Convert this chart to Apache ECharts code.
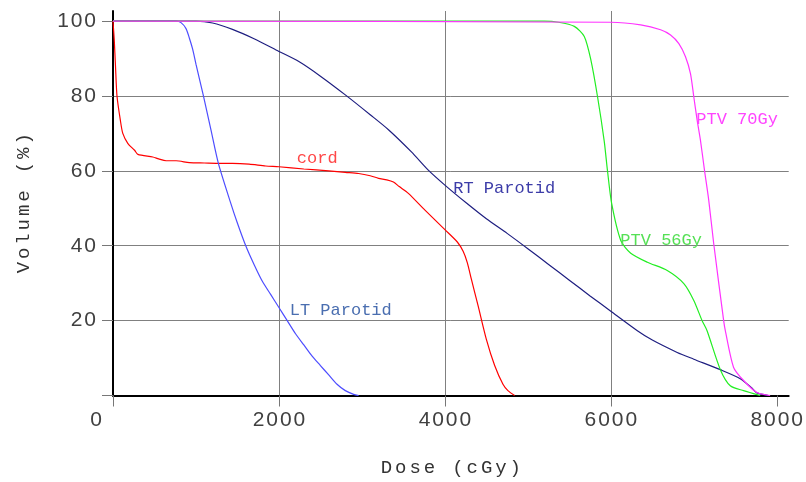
<!DOCTYPE html>
<html><head><meta charset="utf-8">
<script src="https://cdn.jsdelivr.net/npm/echarts@6/dist/echarts.min.js"></script>
<style>html,body{margin:0;padding:0;background:#fff}#c{width:806px;height:482px}</style>
</head><body><div id="c"></div>
<script>
// Dose (cGy) / Volume (%) pairs per structure
const cordDose = [0, 15, 30, 48, 88, 118, 180, 260, 300, 480, 550, 640, 760, 920, 1100, 1300, 1440, 1640, 1840, 2000, 2300, 2600, 2800, 2960, 3100, 3200, 3300, 3380, 3450, 3560, 3760, 4000, 4150, 4220, 4270, 4320, 4400, 4500, 4600, 4700, 4760, 4840];
const cordVol  = [100, 95, 88, 80, 73.6, 70, 67.3, 65.5, 64.4, 63.7, 63.2, 62.7, 62.7, 62.2, 62.1, 62, 62, 61.8, 61.3, 61.1, 60.5, 60, 59.6, 59.3, 58.7, 58, 57.6, 57, 55.8, 54, 49.5, 44.3, 41, 38.5, 35.5, 31, 24, 15, 8, 3, 1.3, 0];

const ltDose = [0, 760, 820, 880, 920, 960, 1000, 1090, 1180, 1270, 1410, 1500, 1600, 1700, 1800, 1900, 2000, 2100, 2200, 2300, 2400, 2500, 2600, 2700, 2800, 2900, 2960];
const ltVol  = [100, 100, 99.6, 98, 95.5, 92.5, 88.5, 80, 71, 62, 52, 46, 40, 35, 30.5, 27, 23.5, 20, 16.5, 13.5, 10.5, 8, 5.5, 3, 1.3, 0.3, 0];

const rtDose = [0, 1000, 1200, 1440, 1700, 2000, 2240, 2500, 2800, 3100, 3320, 3600, 3800, 4000, 4260, 4500, 4750, 5000, 5250, 5500, 5750, 6000, 6320, 6500, 6800, 7000, 7320, 7560, 7700, 7760, 7900];
const rtVol  = [100, 100, 99.5, 97.8, 95.3, 91.9, 89.2, 85.3, 80.3, 75, 71, 65, 60.2, 56.2, 51.4, 47.2, 43.3, 39.2, 35, 30.8, 26.6, 22.5, 17.3, 14.8, 11.5, 9.7, 6.9, 4.5, 2, 0.7, 0];

const ptv56Dose = [0, 5200, 5370, 5560, 5680, 5760, 5840, 5920, 5960, 6010, 6120, 6240, 6440, 6680, 6880, 7000, 7100, 7160, 7320, 7440, 7600, 7800];
const ptv56Vol  = [100, 100, 99.7, 98.6, 95.9, 89.6, 79.8, 68, 60, 51.3, 41.4, 38, 35.6, 33.4, 29.9, 25.4, 20, 17.3, 6.9, 2.6, 1.3, 0];

const ptv70Dose = [0, 6000, 6360, 6600, 6720, 6820, 6900, 6960, 7000, 7040, 7080, 7130, 7180, 7240, 7360, 7380, 7480, 7600, 7760, 7920];
const ptv70Vol  = [100, 99.7, 99, 97.7, 96.3, 94, 90.5, 86, 79.8, 73.6, 68.2, 60, 52.2, 40.6, 20, 17.3, 7.5, 4, 0.8, 0];

const names = ['cord', 'LT Parotid', 'RT Parotid', 'PTV 56Gy', 'PTV 70Gy'];
const labelAt = [[2216, 63.4], [2130, 22.7], [4100, 55.4], [6115, 41.4], [7030, 73.6]];
const xTicks = [0, 2000, 4000, 6000, 8000];
const yTicks = [20, 40, 60, 80, 100];
const xTitle = 'Dose (cGy)';
const yTitle = 'Volume (%)';

const lineColors = ['#ff0000', '#4d4dff', '#1e1e80', '#22ee22', '#ff33ff'];
const textColors = ['#ff4848', '#4a6eb0', '#3c3ca8', '#55e055', '#ff44ff'];
const sets = [[cordDose, cordVol], [ltDose, ltVol], [rtDose, rtVol], [ptv56Dose, ptv56Vol], [ptv70Dose, ptv70Vol]];

const mono = '"Liberation Mono", "Courier New", monospace';
const tickFont = '"Liberation Sans", Arial, sans-serif';

// spread characters at a fixed advance (wide-spaced text as in the original)
const spaced = (str, key) => String(str).split('').map(c => '{' + key + '|' + c + '}').join('');

const series = sets.map((s, i) => ({
  name: names[i],
  type: 'line',
  showSymbol: false,
  smooth: 0.25,
  data: s[0].map((d, k) => [d, s[1][k]]),
  lineStyle: { color: lineColors[i], width: 1.2 },
  itemStyle: { color: lineColors[i] },
  z: 3,
  markPoint: {
    symbol: 'circle', symbolSize: 0, silent: true,
    data: [{ coord: labelAt[i] }],
    label: {
      show: true, formatter: names[i], position: 'right', distance: 0,
      color: textColors[i], fontFamily: mono, fontSize: 17
    }
  }
}));

const tickRich = {
  d: { fontFamily: tickFont, fontSize: 21, color: '#404040', width: 13.6, align: 'center' },
  z: { fontFamily: tickFont, fontSize: 21, color: '#404040', width: 13.6, align: 'center', padding: [0, 34, 0, 0] }
};
const titleRich = {
  t: { fontFamily: mono, fontSize: 19, color: '#333', width: 14.3, align: 'center', lineHeight: 22 }
};

const chart = echarts.init(document.getElementById('c'), null, { renderer: 'canvas' });
chart.setOption({
  animation: false,
  backgroundColor: '#ffffff',
  grid: { left: 113, right: 14, top: 11, bottom: 86 },
  xAxis: {
    type: 'value', min: 0, max: 8144, interval: 2000,
    name: spaced(xTitle, 't'), nameLocation: 'middle', nameGap: 61,
    nameTextStyle: { rich: titleRich },
    axisLine: { show: true, lineStyle: { color: '#000', width: 2 } },
    axisTick: { show: true, inside: false, length: 11, customValues: xTicks, lineStyle: { color: '#777', width: 1 } },
    axisLabel: {
      customValues: xTicks, margin: 14,
      formatter: v => v === 0 ? '{z|0}' : spaced(v, 'd'),
      rich: tickRich
    },
    splitLine: { show: true, showMinLine: false, showMaxLine: false, lineStyle: { color: '#808080', width: 1 } }
  },
  yAxis: {
    type: 'value', min: 0, max: 102.7, interval: 20,
    name: spaced(yTitle, 't'), nameLocation: 'middle', nameGap: 78, nameRotate: 90,
    nameTextStyle: { rich: titleRich },
    axisLine: { show: true, lineStyle: { color: '#000', width: 2 } },
    axisTick: { show: true, inside: false, length: 11, customValues: [0].concat(yTicks), lineStyle: { color: '#777', width: 1 } },
    axisLabel: { customValues: yTicks, margin: 16, formatter: v => spaced(v, 'd'), rich: tickRich },
    splitLine: { show: true, showMinLine: false, showMaxLine: false, lineStyle: { color: '#808080', width: 1 } }
  },
  series: series
});
</script></body></html>
